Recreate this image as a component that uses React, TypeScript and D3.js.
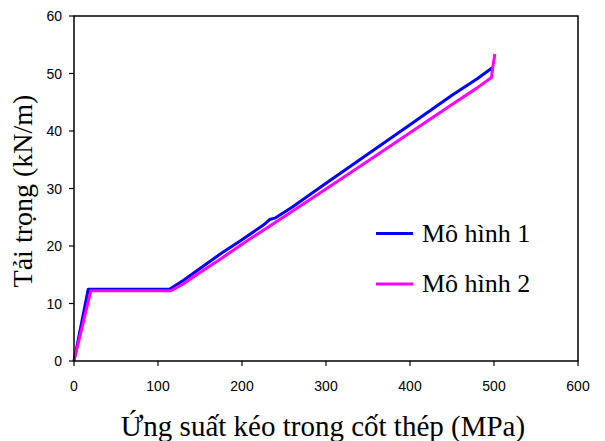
import React from "react";
import * as d3 from "d3";

const xTicks = [0, 100, 200, 300, 400, 500, 600];
const yTicks = [0, 10, 20, 30, 40, 50, 60];

const model1X = [0, 17, 60, 114, 130, 150, 175, 200, 225, 233, 240, 260, 300, 350, 400, 450, 480, 498];
const model1Y = [0, 12.5, 12.5, 12.5, 14.0, 16.1, 18.7, 21.1, 23.6, 24.6, 24.9, 26.8, 30.9, 36.0, 41.1, 46.2, 49.1, 51.0];

const model2X = [0, 20, 60, 115, 130, 150, 175, 200, 250, 300, 350, 400, 450, 480, 497, 499, 501];
const model2Y = [0, 12.2, 12.2, 12.2, 13.4, 15.4, 17.8, 20.3, 25.1, 29.9, 34.8, 39.7, 44.6, 47.5, 49.3, 51.5, 53.4];

const seriesNames = ["Mô hình 1", "Mô hình 2"];
const seriesColors = ["#0000ff", "#ff00ff"];

export default function App() {
  const W = 605, H = 441;
  const left = 74, right = 578, top = 16, bottom = 361;
  const x = d3.scaleLinear().domain([0, 600]).range([left, right]);
  const y = d3.scaleLinear().domain([0, 60]).range([bottom, top]);
  const line = d3.line<[number, number]>().x(d => x(d[0])).y(d => y(d[1]));
  const s1 = model1X.map((v, i) => [v, model1Y[i]] as [number, number]);
  const s2 = model2X.map((v, i) => [v, model2Y[i]] as [number, number]);
  const tickFont = "'Liberation Sans', Arial, sans-serif";
  const titleFont = "'Liberation Serif', 'Times New Roman', serif";
  return (
    <svg width={W} height={H} style={{ position: "absolute", left: 0, top: 0, background: "#fff" }}>
      <rect x={0} y={0} width={W} height={H} fill="#fff" />
      <path d={line(s1) || ""} fill="none" stroke={seriesColors[0]} strokeWidth={3} strokeLinejoin="round" />
      <path d={line(s2) || ""} fill="none" stroke={seriesColors[1]} strokeWidth={3} strokeLinejoin="round" />
      <rect x={left} y={top} width={right - left} height={bottom - top} fill="none" stroke="#000" strokeWidth={1.5} />
      {xTicks.map(t => (
        <g key={"x" + t}>
          <line x1={x(t)} x2={x(t)} y1={bottom} y2={bottom + 5} stroke="#000" strokeWidth={1.2} />
          <text x={x(t)} y={391} textAnchor="middle" fontFamily={tickFont} fontSize={14}>{t}</text>
        </g>
      ))}
      {yTicks.map(t => (
        <g key={"y" + t}>
          <line x1={left - 5} x2={left} y1={y(t)} y2={y(t)} stroke="#000" strokeWidth={1.2} />
          <text x={62} y={y(t) + 5} textAnchor="end" fontFamily={tickFont} fontSize={14}>{t}</text>
        </g>
      ))}
      <text x={323} y={436} textAnchor="middle" fontFamily={titleFont} fontSize={29}>Ứng suất kéo trong cốt thép (MPa)</text>
      <text transform={`translate(32,191) rotate(-90)`} textAnchor="middle" fontFamily={titleFont} fontSize={28}>Tải trọng (kN/m)</text>
      {seriesNames.map((n, i) => (
        <g key={n}>
          <line x1={376} x2={413} y1={233.5 + i * 50.5} y2={233.5 + i * 50.5} stroke={seriesColors[i]} strokeWidth={3} />
          <text x={422} y={242 + i * 50} fontFamily={titleFont} fontSize={26}>{n}</text>
        </g>
      ))}
    </svg>
  );
}
